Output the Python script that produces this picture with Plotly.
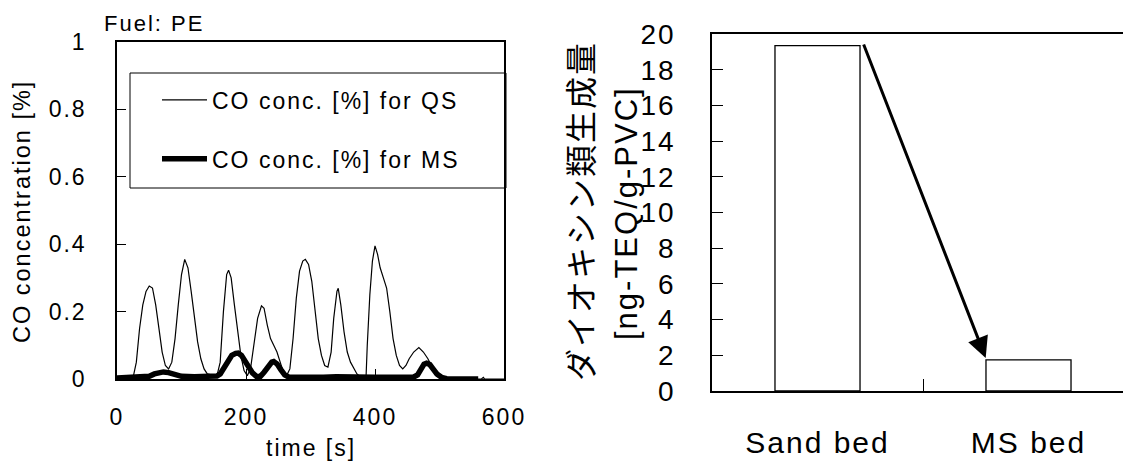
import plotly.graph_objects as go

# ---------------- data ----------------
time_qs = [0, 20, 25, 30, 35, 40, 45, 50, 55, 60, 65, 70, 75, 80, 85, 90, 95, 100, 105, 110,
           115, 120, 125, 130, 135, 140, 150, 155, 160, 165, 170, 173, 177, 182, 187, 192, 197,
           202, 207, 212, 218, 224, 228, 233, 238, 243, 248, 253, 258, 263, 268, 273, 278, 283,
           288, 292, 297, 302, 307, 312, 317, 322, 327, 332, 336, 341, 343, 347, 352, 357, 362,
           367, 372, 378, 384, 386, 388, 392, 396, 400, 404, 408, 413, 418, 423, 428, 433, 438,
           443, 448, 453, 460, 468, 475, 482, 490, 497, 505, 540, 565, 568, 570, 600]
co_qs = [0, 0, 0.005, 0.05, 0.15, 0.22, 0.26, 0.276, 0.27, 0.22, 0.15, 0.08, 0.04, 0.03, 0.05,
         0.12, 0.22, 0.31, 0.355, 0.33, 0.26, 0.18, 0.11, 0.06, 0.03, 0.015, 0.01, 0.01, 0.05,
         0.2, 0.31, 0.323, 0.3, 0.22, 0.14, 0.07, 0.025, 0.01, 0.03, 0.1, 0.18, 0.217, 0.21,
         0.16, 0.12, 0.1, 0.08, 0.05, 0.02, 0.01, 0.03, 0.12, 0.24, 0.32, 0.35, 0.355, 0.34,
         0.29, 0.2, 0.12, 0.07, 0.04, 0.035, 0.08, 0.18, 0.26, 0.269, 0.22, 0.14, 0.08, 0.05,
         0.03, 0.015, 0.005, 0.0, 0.0, 0.1, 0.25, 0.35, 0.395, 0.37, 0.33, 0.3, 0.27, 0.2, 0.12,
         0.07, 0.04, 0.03, 0.04, 0.06, 0.08, 0.093, 0.08, 0.06, 0.03, 0.01, 0.0, 0.0, 0.0, 0.005,
         0.0, 0.0]

time_ms = [0, 30, 50, 58, 65, 72, 80, 90, 100, 120, 140, 155, 160, 166, 172, 178, 184, 188,
           193, 198, 204, 210, 216, 222, 228, 234, 240, 243, 248, 254, 260, 266, 280, 300, 320,
           340, 360, 380, 400, 420, 440, 460, 466, 471, 476, 480, 485, 490, 496, 503, 511, 530,
           560]
co_ms = [0.003, 0.005, 0.008, 0.015, 0.02, 0.021, 0.019, 0.014, 0.008, 0.007, 0.008, 0.009,
         0.015, 0.035, 0.055, 0.07, 0.076, 0.077, 0.07, 0.055, 0.035, 0.018, 0.008, 0.007,
         0.02, 0.038, 0.05, 0.052, 0.045, 0.028, 0.012, 0.006, 0.005, 0.006, 0.005, 0.007,
         0.005, 0.006, 0.005, 0.005, 0.007, 0.006, 0.012, 0.03, 0.044, 0.047, 0.043, 0.03,
         0.015, 0.005, 0.001, 0.0, 0.0]

series_names = ["CO conc. [%] for QS", "CO conc. [%] for MS"]

co_xticks = [0, 200, 400, 600]
co_yticks = [0, 0.2, 0.4, 0.6, 0.8, 1]

categories = ["Sand bed", "MS bed"]
dioxin = [19.35, 1.74]
dioxin_yticks = [0, 2, 4, 6, 8, 10, 12, 14, 16, 18, 20]

arrow_from = (0.216, 19.5)
arrow_to = (0.797, 1.85)

# ---------------- figure ----------------
W, H = 1123, 461
FONT = "Liberation Sans, Arial, sans-serif"
JP = "Noto Sans CJK JP"


def px_x(v):
    return v / W


def px_y(v):
    return (H - v) / H


fig = go.Figure()
fig.add_trace(go.Scatter(x=time_qs, y=co_qs, mode="lines", name=series_names[0],
                         line=dict(color="black", width=1.2), legendgroup="qs",
                         xaxis="x", yaxis="y"))
fig.add_trace(go.Scatter(x=time_ms, y=co_ms, mode="lines", name=series_names[1],
                         line=dict(color="black", width=5.5), legendgroup="ms",
                         xaxis="x", yaxis="y"))
fig.add_trace(go.Bar(x=categories, y=dioxin, width=0.403, showlegend=False,
                     marker=dict(color="white", line=dict(color="black", width=1.3)),
                     xaxis="x2", yaxis="y2"))

axis_common = dict(showgrid=False, zeroline=False, showline=True, linecolor="black",
                   linewidth=1.5, ticks="inside", tickcolor="black", tickwidth=1,
                   automargin=False)

fig.update_layout(
    width=W, height=H, autosize=False,
    margin=dict(l=0, r=0, t=0, b=0, pad=0),
    paper_bgcolor="white", plot_bgcolor="white",
    font=dict(family=FONT, color="black"),
    xaxis=dict(domain=[px_x(117), px_x(504)], range=[0, 600], tickvals=co_xticks,
               ticklen=10, mirror=True, tickfont=dict(size=23), ticklabelstandoff=17,
               anchor="y", **axis_common),
    yaxis=dict(domain=[px_y(379), px_y(42)], range=[0, 1], tickvals=co_yticks,
               ticklen=9, mirror=True, tickfont=dict(size=23), ticklabelstandoff=24,
               anchor="x", **axis_common),
    xaxis2=dict(domain=[px_x(712), 1.0], range=[-0.5, (W - 712) / 211 - 0.5],
                type="category", tickson="boundaries", ticklen=12, mirror=True,
                tickfont=dict(size=30), ticklabelstandoff=24, anchor="y2", **axis_common),
    yaxis2=dict(domain=[px_y(391), px_y(34)], range=[0, 20], tickvals=dioxin_yticks,
                ticklen=11, mirror=False, tickfont=dict(size=28), ticklabelstandoff=29,
                anchor="x2", **axis_common),
    showlegend=True,
    legend=dict(x=px_x(157), y=px_y(78.5), xanchor="left", yanchor="top",
                bgcolor="rgba(0,0,0,0)", borderwidth=0, font=dict(size=23),
                itemwidth=45, tracegroupgap=26),
    bargap=0.5,
)

# legend frame
fig.add_shape(type="rect", xref="paper", yref="paper",
              x0=px_x(130), x1=px_x(506), y0=px_y(188), y1=px_y(73),
              line=dict(color="black", width=1), fillcolor="rgba(0,0,0,0)", layer="above")

annotations = [
    dict(text="Fuel: PE", x=px_x(110), y=px_y(23), xanchor="left", yanchor="middle",
         font=dict(size=22)),
    dict(text="time [s]", x=px_x(311), y=px_y(448), xanchor="center", yanchor="middle",
         font=dict(size=23)),
    dict(text="CO concentration [%]", x=px_x(22), y=px_y(212), textangle=-90,
         xanchor="center", yanchor="middle", font=dict(size=23.5)),
    dict(text="ダイオキシン類生成量", x=px_x(579), y=px_y(211), textangle=-90,
         xanchor="center", yanchor="middle", font=dict(size=32, family=JP)),
    dict(text="[ng-TEQ/g-PVC]", x=px_x(626), y=px_y(213), textangle=-90,
         xanchor="center", yanchor="middle", font=dict(size=31)),
]
for a in annotations:
    fig.add_annotation(xref="paper", yref="paper", showarrow=False, **a)

fig.add_annotation(xref="x2", yref="y2", axref="x2", ayref="y2",
                   x=arrow_to[0], y=arrow_to[1], ax=arrow_from[0], ay=arrow_from[1],
                   text="", showarrow=True, arrowhead=2, arrowsize=1.4, arrowwidth=3,
                   arrowcolor="black")

post = (
    "document.body.style.margin='0';"
    "document.body.style.overflow='hidden';"
    "document.querySelectorAll('svg text').forEach(function(t){"
    "t.style.letterSpacing='2px';});"
    "document.querySelectorAll('.legend [clip-path]').forEach(function(e){"
    "e.removeAttribute('clip-path');});"
)

fig.write_html("out.html", post_script=post, config={"displayModeBar": False})
